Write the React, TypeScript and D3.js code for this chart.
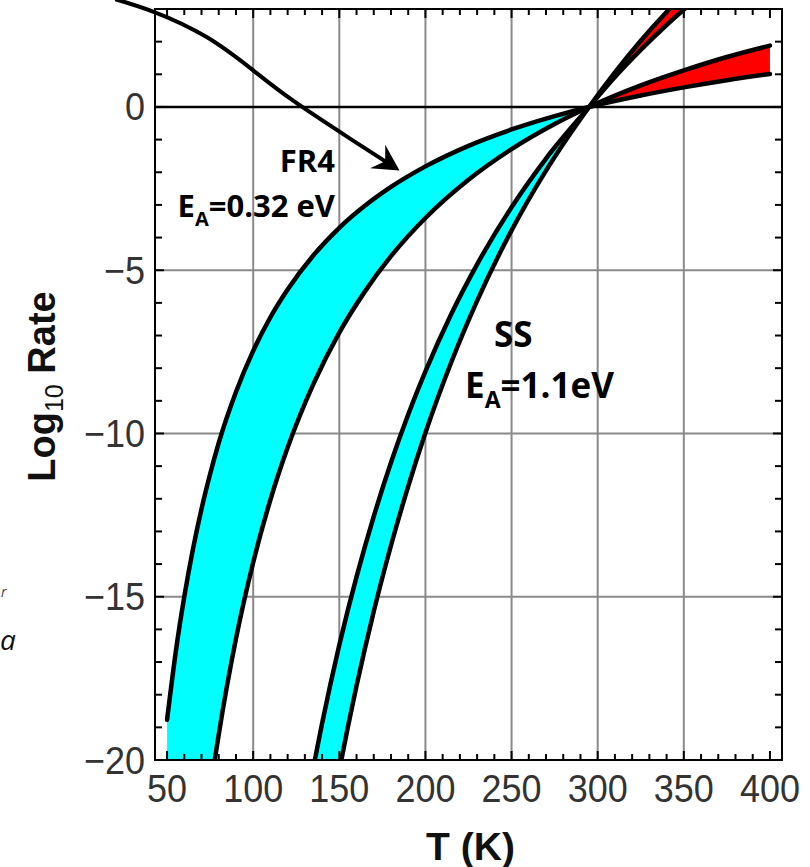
import React, { useEffect, useRef } from "react";
import * as d3 from "d3";

const W = 810;
const H = 867;

// temperatures (K) sampled along the FR4 band and the log10 rate of its two edges
const fr4Temps = [50, 55, 60, 65, 70, 75, 80, 90, 100, 110, 120, 135, 150, 165, 180, 200, 225, 250, 275, 295, 325, 350, 375, 400];
const fr4EdgeLowEa = [-18.77, -16.71, -15.0, -13.55, -12.31, -11.24, -10.29, -8.73, -7.47, -6.44, -5.59, -4.54, -3.7, -3.02, -2.45, -1.82, -1.19, -0.69, -0.28, 0, 0.35, 0.6, 0.82, 1.01];
const fr4EdgeHighEa = [-35.05, -31.21, -28.01, -25.31, -22.99, -20.98, -19.22, -16.29, -13.95, -12.03, -10.43, -8.48, -6.91, -5.64, -4.57, -3.4, -2.23, -1.29, -0.52, 0, 0.66, 1.12, 1.53, 1.88];

// same for the stainless steel band
const ssTemps = [130, 135, 140, 150, 155, 160, 170, 180, 190, 200, 215, 230, 250, 270, 295, 310, 325, 340, 355];
const ssEdgeLowEa = [-21.64, -20.21, -18.88, -16.48, -15.4, -14.39, -12.54, -10.89, -9.42, -8.1, -6.34, -4.82, -3.07, -1.58, 0, 0.92, 1.75, 2.51, 3.21];
const ssEdgeHighEa = [-26.68, -24.91, -23.27, -20.32, -18.98, -17.73, -15.45, -13.43, -11.62, -9.98, -7.82, -5.94, -3.78, -1.95, 0, 1.06, 2.03, 2.91, 3.71];

const crossT = 295; // bands turn red above room temperature

const xTickLabels = [50, 100, 150, 200, 250, 300, 350, 400];
const yTickLabels = [-20, -15, -10, -5, 0];
const xGrid = [100, 150, 200, 250, 300, 350];
const yGrid = [-15, -10, -5];

// annotation arrow, in data units
const arrowT = [20, 43, 73, 100, 123, 156, 183];
const arrowLog = [3.3, 2.9, 2.14, 1.12, 0.2, -0.96, -1.88];

export default function App() {
  const svgRef = useRef<SVGSVGElement>(null);

  useEffect(() => {
    const svg = d3.select(svgRef.current);
    svg.selectAll("*").remove();

    const x = d3.scaleLinear().domain([43, 407]).range([155, 782]);
    const y = d3.scaleLinear().domain([-20, 3]).range([760, 9]);
    const [x0, x1] = x.range();
    const [y0, y1] = y.range();

    const defs = svg.append("defs");
    defs
      .append("clipPath")
      .attr("id", "plot-clip")
      .append("rect")
      .attr("x", x0)
      .attr("y", y1)
      .attr("width", x1 - x0)
      .attr("height", y0 - y1);

    defs
      .append("marker")
      .attr("id", "arrow-head")
      .attr("markerUnits", "userSpaceOnUse")
      .attr("viewBox", "-28 -15 32 30")
      .attr("markerWidth", 32)
      .attr("markerHeight", 30)
      .attr("refX", -4)
      .attr("refY", 0)
      .attr("orient", "auto")
      .append("path")
      .attr("d", "M0,0 L-26,-14 L-17,0 L-26,14 Z")
      .attr("fill", "#000");

    // grid
    const grid = svg.append("g");
    grid
      .selectAll("line.vx")
      .data(xGrid)
      .join("line")
      .attr("x1", (d) => x(d))
      .attr("x2", (d) => x(d))
      .attr("y1", y1)
      .attr("y2", y0)
      .attr("stroke", "#8a8a8a")
      .attr("stroke-width", 2);
    grid
      .selectAll("line.hy")
      .data(yGrid)
      .join("line")
      .attr("x1", x0)
      .attr("x2", x1)
      .attr("y1", (d) => y(d))
      .attr("y2", (d) => y(d))
      .attr("stroke", "#8a8a8a")
      .attr("stroke-width", 2);
    svg
      .append("line")
      .attr("x1", x0)
      .attr("x2", x1)
      .attr("y1", y(0))
      .attr("y2", y(0))
      .attr("stroke", "#000")
      .attr("stroke-width", 2.5);

    // bands
    const plot = svg.append("g").attr("clip-path", "url(#plot-clip)");

    const drawBand = (temps: number[], a: number[], b: number[]) => {
      const rows = temps.map((t, i) => ({ t, a: a[i], b: b[i] }));
      const area = d3
        .area<{ t: number; a: number; b: number }>()
        .curve(d3.curveMonotoneX)
        .x((d) => x(d.t))
        .y0((d) => y(d.b))
        .y1((d) => y(d.a));
      plot
        .append("path")
        .attr("d", area(rows.filter((d) => d.t <= crossT)))
        .attr("fill", "#00ffff");
      plot
        .append("path")
        .attr("d", area(rows.filter((d) => d.t >= crossT)))
        .attr("fill", "#ff0000");
      const line = d3
        .line<number>()
        .curve(d3.curveMonotoneX)
        .x((_, i) => x(temps[i]))
        .y((d) => y(d));
      [a, b].forEach((s) => {
        plot
          .append("path")
          .attr("d", line(s))
          .attr("fill", "none")
          .attr("stroke", "#000")
          .attr("stroke-width", 4.5)
          .attr("stroke-linecap", "round");
      });
    };
    drawBand(fr4Temps, fr4EdgeLowEa, fr4EdgeHighEa);
    drawBand(ssTemps, ssEdgeLowEa, ssEdgeHighEa);

    // frame
    svg
      .append("rect")
      .attr("x", x0)
      .attr("y", y1)
      .attr("width", x1 - x0)
      .attr("height", y0 - y1)
      .attr("fill", "none")
      .attr("stroke", "#000")
      .attr("stroke-width", 2);

    // inward ticks on all four sides
    const ticks = svg.append("g").attr("stroke", "#000").attr("stroke-width", 2);
    const xMinor = d3.range(50, 401, 10);
    const yMinor = d3.range(-20, 4, 1);
    xMinor.forEach((t) => {
      const len = t % 50 === 0 ? 9 : 6;
      ticks.append("line").attr("x1", x(t)).attr("x2", x(t)).attr("y1", y0).attr("y2", y0 - len);
      ticks.append("line").attr("x1", x(t)).attr("x2", x(t)).attr("y1", y1).attr("y2", y1 + len);
    });
    yMinor.forEach((v) => {
      const len = v % 5 === 0 ? 9 : 7;
      ticks.append("line").attr("x1", x0).attr("x2", x0 + len).attr("y1", y(v)).attr("y2", y(v));
      ticks.append("line").attr("x1", x1).attr("x2", x1 - len).attr("y1", y(v)).attr("y2", y(v));
    });

    // tick labels
    const tickFont = "'Liberation Sans', Arial, sans-serif";
    svg
      .append("g")
      .selectAll("text")
      .data(xTickLabels)
      .join("text")
      .attr("transform", (d) => `translate(${x(d)},${y0 + 42}) scale(1,1.08)`)
      .attr("text-anchor", "middle")
      .attr("font-family", tickFont)
      .attr("font-size", 36)
      .attr("fill", "#333")
      .text((d) => d);
    svg
      .append("g")
      .selectAll("text")
      .data(yTickLabels)
      .join("text")
      .attr("transform", (d) => `translate(${x0 - 10},${y(d) + 13.5}) scale(1,1.08)`)
      .attr("text-anchor", "end")
      .attr("font-family", tickFont)
      .attr("font-size", 36)
      .attr("fill", "#333")
      .text((d) => (d < 0 ? `\u2212${-d}` : `${d}`));

    // axis titles
    const yTitle = svg
      .append("text")
      .attr("transform", `translate(55,${(y0 + y1) / 2 + 2}) rotate(-90)`)
      .attr("text-anchor", "middle")
      .attr("font-family", tickFont)
      .attr("font-size", 38)
      .attr("font-weight", "bold")
      .attr("fill", "#111");
    yTitle.append("tspan").text("Log");
    yTitle.append("tspan").attr("font-size", 25).attr("font-weight", "normal").attr("dy", 8).text("10");
    yTitle.append("tspan").attr("dy", -8).text(" Rate");

    svg
      .append("text")
      .attr("x", (x0 + x1) / 2 + 2)
      .attr("y", 860)
      .attr("text-anchor", "middle")
      .attr("font-family", tickFont)
      .attr("font-size", 39)
      .attr("font-weight", "bold")
      .attr("fill", "#111")
      .text("T (K)");

    // annotations
    const noteFont = "'Open Sans', 'Noto Sans', sans-serif";
    const note = (t: number, v: number, anchor: string, size: number) =>
      svg
        .append("text")
        .attr("x", x(t))
        .attr("y", y(v))
        .attr("text-anchor", anchor)
        .attr("font-family", noteFont)
        .attr("font-weight", "bold")
        .attr("font-size", size)
        .attr("fill", "#000");

    note(147.5, -1.99, "end", 31).text("FR4");
    const ea1 = note(147.5, -3.38, "end", 31);
    ea1.append("tspan").text("E");
    ea1.append("tspan").attr("font-size", 20).attr("dy", 9).text("A");
    ea1.append("tspan").attr("dy", -9).text("=0.32 eV");

    note(239.8, -7.36, "start", 35).text("SS");
    const ea2 = note(223, -8.92, "start", 35);
    ea2.append("tspan").text("E");
    ea2.append("tspan").attr("font-size", 23).attr("dy", 10).text("A");
    ea2.append("tspan").attr("dy", -10).text("=1.1eV");

    const arrowLine = d3
      .line<number>()
      .curve(d3.curveNatural)
      .x((_, i) => x(arrowT[i]))
      .y((d) => y(d));
    svg
      .append("path")
      .attr("d", arrowLine(arrowLog))
      .attr("fill", "none")
      .attr("stroke", "#000")
      .attr("stroke-width", 4)
      .attr("marker-end", "url(#arrow-head)");

    // bits of neighbouring slide text at the left edge
    svg
      .append("text")
      .attr("x", 1)
      .attr("y", 597)
      .attr("font-family", noteFont)
      .attr("font-style", "italic")
      .attr("font-size", 14)
      .attr("fill", "#444")
      .text("r");
    svg
      .append("text")
      .attr("x", 0)
      .attr("y", 650)
      .attr("font-family", noteFont)
      .attr("font-style", "italic")
      .attr("font-size", 28)
      .attr("fill", "#111")
      .text("a");
  }, []);

  return (
    <svg
      ref={svgRef}
      width={W}
      height={H}
      style={{ position: "absolute", left: 0, top: 0, background: "#fff" }}
    />
  );
}
